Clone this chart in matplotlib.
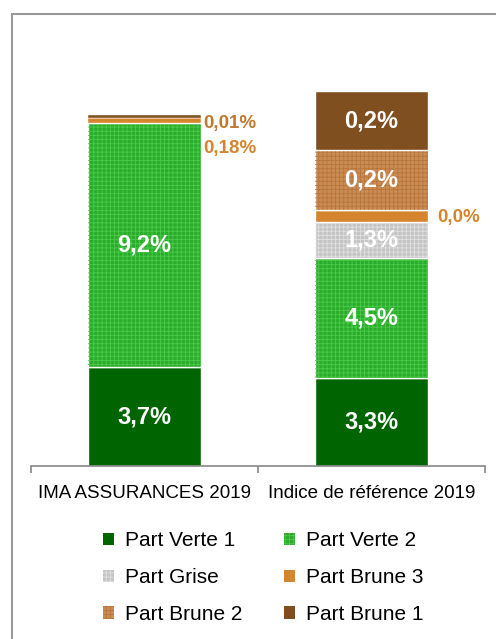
import numpy as np
import matplotlib
matplotlib.use("Agg")
import matplotlib.pyplot as plt
from matplotlib.patches import Rectangle, Patch

plt.rcParams['font.family'] = ['Liberation Sans', 'DejaVu Sans']
plt.rcParams['hatch.linewidth'] = 0.6

categories = ["IMA ASSURANCES 2019", "Indice de référence 2019"]
series = ["Part Verte 1", "Part Verte 2", "Part Grise", "Part Brune 3", "Part Brune 2", "Part Brune 1"]
# bar heights as drawn in the picture
ima = [3.7, 9.2, 0.0, 0.16, 0.0, 0.12]
ref = [3.3, 4.5, 1.35, 0.45, 2.25, 2.25]
# labels as printed on the picture
ima_labels = ["3,7%", "9,2%", "", "0,18%", "", "0,01%"]
ref_labels = ["3,3%", "4,5%", "1,3%", "0,0%", "0,2%", "0,2%"]

colors = ["#006400", "#2aae2a", "#c4c4c4", "#d4852e", "#c98c55", "#7f4f1f"]
hatch_col = [None, "#4cc84c", "#e0e0e0", None, "#b8753a", None]

fig = plt.figure(figsize=(4.96, 6.39), dpi=100)
ax = fig.add_axes([31/496, 173/639, 454/496, 426/639])

x = np.arange(len(categories))
data = np.array([ima, ref])
bottom = np.zeros(len(categories))
for i, name in enumerate(series):
    vals = data[:, i]
    lw = [0.3, 1.0] if i >= 3 else 1.0
    ax.bar(x, vals, 0.5, bottom=bottom, color=colors[i], edgecolor="white", linewidth=lw)
    if hatch_col[i]:
        ax.bar(x, vals, 0.5, bottom=bottom, fill=False, hatch="++++", edgecolor=hatch_col[i], linewidth=0)
    bottom += vals

# labels inside the bars
def inside(j, labels, idx):
    b = data[j, :idx].sum()
    ax.text(x[j], b + data[j, idx] / 2, labels[idx], ha="center", va="center",
            color="white", fontsize=17, fontweight="bold")

inside(0, ima_labels, 0)
inside(0, ima_labels, 1)
for k in [0, 1, 2, 4, 5]:
    inside(1, ref_labels, k)

# small values written beside the bars
top_ima = data[0].sum()
ax.text(0.26, top_ima - 0.3, ima_labels[5], ha="left", va="center",
        color="#c07a30", fontsize=13.5, fontweight="bold")
ax.text(0.26, top_ima - 1.25, ima_labels[3], ha="left", va="center",
        color="#d4852e", fontsize=13.5, fontweight="bold")
ax.text(1.29, data[1, :3].sum() + data[1, 3] / 2 - 0.05, ref_labels[3], ha="left", va="center",
        color="#d4852e", fontsize=13.5, fontweight="bold")

ax.set_xlim(-0.5, 1.5)
ax.set_ylim(0, 16)
ax.set_yticks([])
for s in ["left", "right", "top"]:
    ax.spines[s].set_visible(False)
ax.spines["bottom"].set_color("#888888")
ax.spines["bottom"].set_linewidth(1.2)
ax.set_xticks(x)
ax.set_xticklabels(categories, fontsize=13.5)
ax.tick_params(axis="x", which="major", length=0, pad=14)
ax.set_xticks([-0.5, 0.5, 1.5], minor=True)
ax.tick_params(axis="x", which="minor", length=5, color="#888888", width=1.2)

handles = []
for i, name in enumerate(series):
    handles.append(Patch(facecolor=colors[i], edgecolor=hatch_col[i] or colors[i],
                         hatch="++++" if hatch_col[i] else None, linewidth=0, label=name))
# row-wise order in a two-column legend
order = [0, 2, 4, 1, 3, 5]
fig.legend(handles=[handles[k] for k in order], loc="center", bbox_to_anchor=(0.53, 0.096), ncol=2,
           frameon=False, fontsize=15, handlelength=0.55, handleheight=0.55,
           handletextpad=0.5, columnspacing=2.0, labelspacing=0.85)

# outer frame
fig.patches.append(Rectangle((12/496, -0.1), 1.2, 1 - 14/639 + 0.1, transform=fig.transFigure,
                             fill=False, edgecolor="#999999", linewidth=1.5))

fig.savefig("out.png", dpi=100)
